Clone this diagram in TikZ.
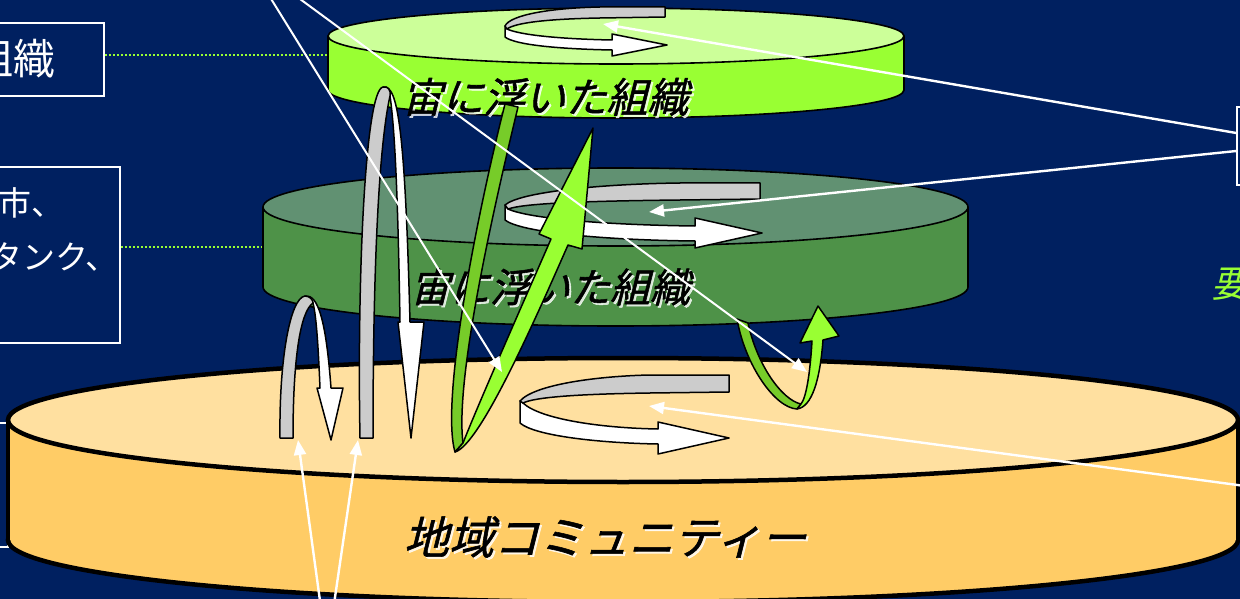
\documentclass[tikz,border=0pt]{standalone}
\usepackage{fontspec}
\newfontfamily\jp{Noto Sans CJK JP}
\newfontfamily\jpi[FakeSlant=0.25]{Noto Sans CJK JP}
\newfontfamily\jpm[FakeSlant=0.25,FakeBold=1.3]{Noto Sans CJK JP}
\usetikzlibrary{arrows.meta}
\definecolor{navy}{RGB}{0,32,96}
\definecolor{lgtop}{RGB}{204,255,153}
\definecolor{lgside}{RGB}{153,255,51}
\definecolor{dgtop}{RGB}{97,145,114}
\definecolor{dgside}{RGB}{78,146,72}
\definecolor{ortop}{RGB}{255,224,160}
\definecolor{orside}{RGB}{255,204,102}
\definecolor{ribgray}{RGB}{204,204,204}
\definecolor{gdark}{RGB}{119,204,41}
\definecolor{gbright}{RGB}{153,255,51}
\begin{document}
\begin{tikzpicture}[x=1pt,y=-1pt,
  boxline/.style={draw=white,line width=1.5pt,inner sep=0pt,fill=none},
  boxtext/.style={text=white,inner sep=0pt},
  dotline/.style={draw=gbright,line width=2pt,dash pattern=on 2pt off 2pt},
  rib/.style={draw=black,line width=1.5pt,line join=round},
  dlabel/.style={text=black,inner sep=0pt},
  glow/.style={text=white,inner sep=0pt,opacity=0.8},
  callout/.style={draw=white,line width=2.4pt,-{Triangle[length=15pt,width=12pt]}},
  callthin/.style={draw=white,line width=2pt,-{Triangle[length=15pt,width=12pt]}}
]
\useasboundingbox (0,0) rectangle (1240,599);
\clip (0,0) rectangle (1240,599);
\fill[navy] (0,0) rectangle (1240,599);

% ---------- left boxes ----------
\node[boxline,minimum width=124pt,minimum height=73pt] (box1) at (42,59.5) {};
\node[boxtext,anchor=west,font=\jp\fontsize{42}{42}\selectfont] (b1t) at (-29,59) {組織};
\node[boxline,minimum width=140pt,minimum height=176pt] (box2) at (50,255) {};
\node[boxtext,anchor=west,font=\jp\fontsize{33}{33}\selectfont] (b2a) at (-2,203) {市、};
\node[boxtext,anchor=west,font=\jp\fontsize{33}{33}\selectfont] (b2b) at (-11,257) {タンク、};
\node[boxline,minimum width=28pt,minimum height=124pt] (box3) at (-6,485) {};

% right box and text
\node[boxline,minimum width=63pt,minimum height=78pt] (rbox) at (1268.5,146) {};
\node[text=gbright,inner sep=0pt,anchor=west,font=\jpi\fontsize{37}{37}\selectfont] (req) at (1211,284) {要};

% dotted leaders
\coordinate (d1) at (328,55);
\coordinate (d2) at (263,247);
\draw[dotline] (box1.east |- d1) -- (d1);
\draw[dotline] (box2.east |- d2) -- (d2);

% ---------- disks ----------
% bottom (orange)
\fill[orside,draw=black,line width=4.5pt] (623,540) ellipse [x radius=615pt, y radius=62pt];
\fill[orside] (8,420) rectangle (1238,540);
\draw[black,line width=4.5pt] (8,420) -- (8,540) (1238,420) -- (1238,540);
\filldraw[fill=ortop,draw=black,line width=4.5pt] (623,420) ellipse [x radius=615pt, y radius=62pt];
% middle (dark green)
\fill[dgside,draw=black,line width=1.6pt] (615.5,287) ellipse [x radius=352.5pt, y radius=39pt];
\fill[dgside] (263,207) rectangle (968,287);
\draw[black,line width=1.6pt] (263,207) -- (263,287) (968,207) -- (968,287);
\filldraw[fill=dgtop,draw=black,line width=1.6pt] (615.5,207) ellipse [x radius=352.5pt, y radius=39pt];
% top (light green)
\fill[lgside,draw=black,line width=1.6pt] (616,90) ellipse [x radius=288pt, y radius=28pt];
\fill[lgside] (328,36) rectangle (904,90);
\draw[black,line width=1.6pt] (328,36) -- (328,90) (904,36) -- (904,90);
\filldraw[fill=lgtop,draw=black,line width=1.6pt] (616,36) ellipse [x radius=288pt, y radius=28pt];

% ---------- disk labels ----------
\node[glow,font=\jpm\fontsize{41}{41}\selectfont] (t1g) at (547,99) {宙に浮いた組織};
\node[dlabel,font=\jpm\fontsize{41}{41}\selectfont] (t1) at (545,97) {宙に浮いた組織};
\node[glow,font=\jpm\fontsize{40}{40}\selectfont] (t2g) at (552,289) {宙に浮いた組織};
\node[dlabel,font=\jpm\fontsize{40}{40}\selectfont] (t2) at (550,287) {宙に浮いた組織};
\node[glow,font=\jpm\fontsize{45}{45}\selectfont] (t3g) at (607,539) {地域コミュニティー};
\node[dlabel,font=\jpm\fontsize{45}{45}\selectfont] (t3) at (605,537) {地域コミュニティー};

% ---------- circular ribbon arrows ----------
% top disk
\filldraw[rib,fill=white] (505,26) -- (505,37) .. controls (515,45) and (560,49) .. (612,50) -- (612,56) -- (667,45) -- (612,34) -- (612,40) .. controls (560,39) and (520,35) .. (507,29) -- cycle;
\filldraw[rib,fill=ribgray] (665,7) -- (665,17) -- (600,18) .. controls (545,19) and (515,23) .. (507,29) -- (505,26) .. controls (510,15) and (550,8) .. (600,7) -- cycle;
% middle disk
\filldraw[rib,fill=white] (505,205) -- (505,220) .. controls (520,232) and (600,240) .. (695,241) -- (695,248) -- (762,233) -- (695,218) -- (695,226) .. controls (610,225) and (530,219) .. (508,209) -- cycle;
\filldraw[rib,fill=ribgray] (760,183) -- (760,199) -- (680,200) .. controls (590,201) and (525,203) .. (508,209) -- (505,205) .. controls (520,192) and (600,184) .. (680,183) -- cycle;
% bottom disk
\filldraw[rib,fill=white] (520,401) -- (520,423) .. controls (535,436) and (600,443) .. (658,444) -- (658,454) -- (729,438) -- (658,422) -- (658,429) .. controls (600,428) and (540,419) .. (523,403) -- cycle;
\filldraw[rib,fill=ribgray] (729,375) -- (729,392) -- (650,393) .. controls (580,394) and (535,397) .. (523,403) -- (520,401) .. controls (535,384) and (600,376) .. (650,375) -- cycle;

% ---------- loop arrows ----------
% small left loop
\filldraw[rib,fill=white] (305,296) .. controls (318,294) and (326,320) .. (331,388) -- (343,388) -- (331,440) -- (317,388) -- (320,388) .. controls (318,340) and (316,315) .. (313,303) .. controls (311,299) and (308,297) .. (305,296) -- cycle;
\filldraw[rib,fill=ribgray] (280,438) .. controls (279,360) and (290,298) .. (305,296) .. controls (310,296) and (313,300) .. (313,303) .. controls (300,312) and (293,360) .. (293,438) -- cycle;
% tall loop
\filldraw[rib,fill=white] (383,87) .. controls (398,84) and (405,130) .. (410,322) -- (424,322) -- (411,438) -- (398,322) -- (400,322) .. controls (398,200) and (395,130) .. (390,96) .. controls (391,90) and (388,86) .. (383,87) -- cycle;
\filldraw[rib,fill=ribgray] (360,438) .. controls (357,280) and (365,90) .. (383,87) .. controls (388,86) and (391,90) .. (390,96) .. controls (378,150) and (373,280) .. (373,438) -- cycle;

% big green loop
\filldraw[rib,fill=gdark] (505,104) -- (518,107) .. controls (492,215) and (455,380) .. (463,443) -- (455,452) .. controls (440,400) and (478,210) .. (505,104) -- cycle;
\filldraw[rib,fill=gbright] (455,452) .. controls (480,445) and (535,320) .. (568,245) -- (582,249) -- (593,128) -- (539,234) -- (551,239) .. controls (520,310) and (480,400) .. (463,443) -- cycle;
% small green loop (right)
\filldraw[rib,fill=gdark] (737,319) .. controls (745,365) and (775,408) .. (797,409) -- (801,404) .. controls (782,400) and (757,365) .. (748,323) -- cycle;
\filldraw[rib,fill=gbright] (797,409) .. controls (812,407) and (820,380) .. (823,340) -- (839,336) -- (818,306) -- (800,343) -- (812,341) .. controls (810,375) and (806,398) .. (801,404) -- cycle;

% ---------- callout lines ----------
\coordinate (srcTL) at (247,-40);
\coordinate (tipA) at (502,372);
\coordinate (tipB) at (807,372);
\draw[callthin] (srcTL) -- (tipA);
\draw[callthin] (srcTL) -- (tipB);

\coordinate (tipR1) at (603,24);
\coordinate (tipR2) at (649,212);
\coordinate (tipR3) at (649,406);
\coordinate (srcR3) at (1245,486);
\draw[callout] ([yshift=13pt]rbox.west) -- (tipR1);
\draw[callout] ([yshift=-5pt]rbox.west) -- (tipR2);
\draw[callout] (srcR3) -- (tipR3);

\coordinate (srcB) at (327,652);
\coordinate (tipL1) at (298,440);
\coordinate (tipL2) at (358,440);
\draw[callout] (srcB) -- (tipL1);
\draw[callout] (srcB) -- (tipL2);
\end{tikzpicture}
\end{document}
